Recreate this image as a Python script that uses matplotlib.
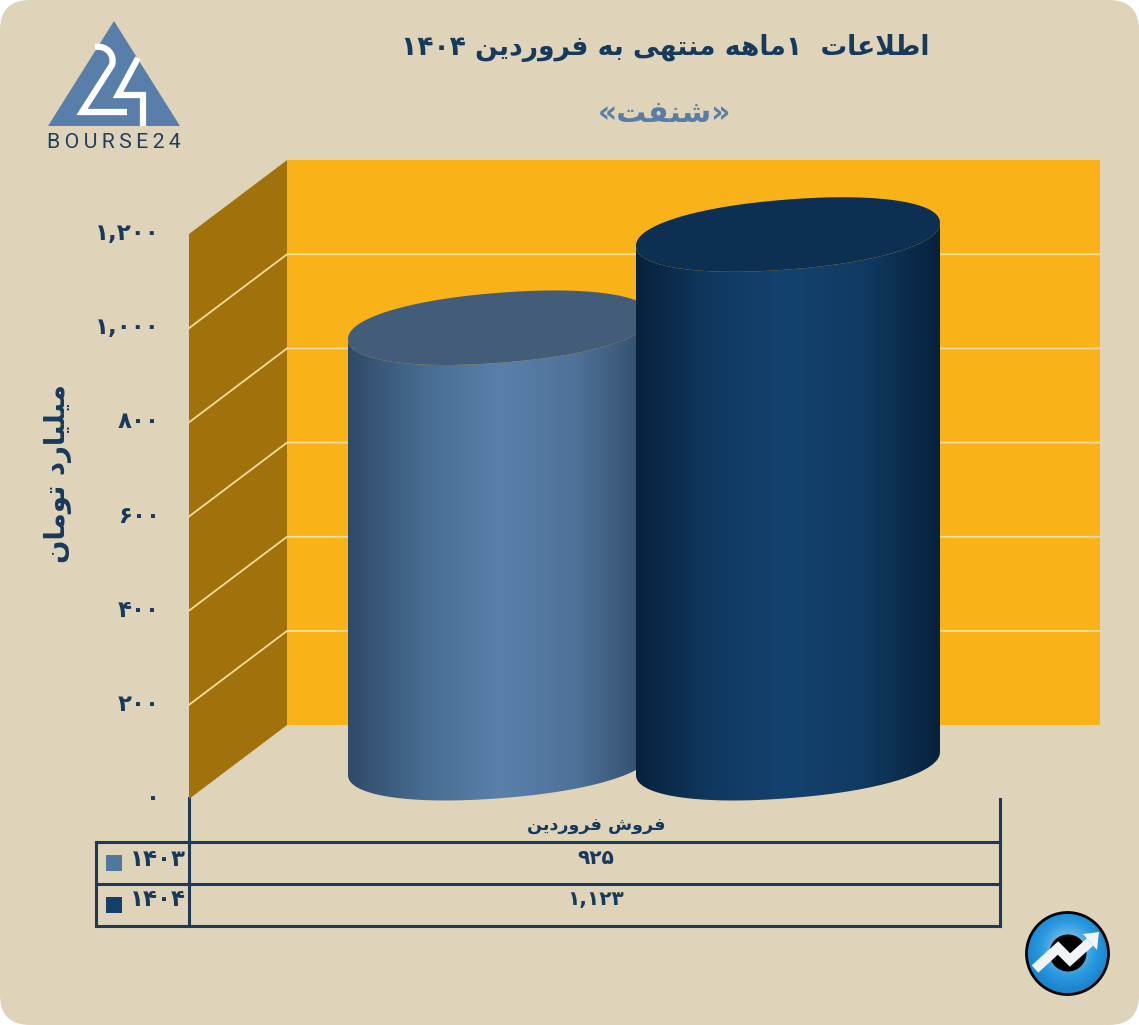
import numpy as np
import matplotlib
matplotlib.use('Agg')
import matplotlib.pyplot as plt
from matplotlib.colors import LinearSegmentedColormap
from matplotlib.patches import Circle, FancyBboxPatch, PathPatch, Polygon, Rectangle
from matplotlib.path import Path

plt.rcParams['font.family'] = ['DejaVu Sans']

title = 'اطلاعات  ۱ماهه منتهی به فروردین ۱۴۰۴'
subtitle = '«شنفت»'
y_title = 'میلیارد تومان'
category = 'فروش فروردین'
years = [1403, 1404]
sales = [925, 1123]
y_ticks = [0, 200, 400, 600, 800, 1000, 1200]

NAVY = '#17395c'
STEEL = '#5a7da6'
PX = 0.4708  # pixels per billion toman
BASE_Y = 799
WALL_SHIFT = 157
CYL_SHIFT = 76
CYL_W = 304

# isolated, final, initial, medial
FORMS = {
    'ا': (0xFE8D, 0xFE8E), 'ب': (0xFE8F, 0xFE90, 0xFE91, 0xFE92),
    'ت': (0xFE95, 0xFE96, 0xFE97, 0xFE98), 'د': (0xFEA9, 0xFEAA),
    'ر': (0xFEAD, 0xFEAE), 'ش': (0xFEB5, 0xFEB6, 0xFEB7, 0xFEB8),
    'ط': (0xFEC1, 0xFEC2, 0xFEC3, 0xFEC4), 'ع': (0xFEC9, 0xFECA, 0xFECB, 0xFECC),
    'ف': (0xFED1, 0xFED2, 0xFED3, 0xFED4), 'ل': (0xFEDD, 0xFEDE, 0xFEDF, 0xFEE0),
    'م': (0xFEE1, 0xFEE2, 0xFEE3, 0xFEE4), 'ن': (0xFEE5, 0xFEE6, 0xFEE7, 0xFEE8),
    'ه': (0xFEE9, 0xFEEA, 0xFEEB, 0xFEEC), 'و': (0xFEED, 0xFEEE),
    'ی': (0xFBFC, 0xFBFD, 0xFBFE, 0xFBFF),
}
MIRROR = {'«': '»', '»': '«'}


def fa_num(n, comma=True):
    s = f'{n:,}' if comma else str(n)
    return s.translate(str.maketrans('0123456789', '۰۱۲۳۴۵۶۷۸۹'))


def shape(text):
    # matplotlib has no bidi or joining, so do it by hand
    out = []
    i = 0
    while i < len(text):
        c = text[i]
        if c not in FORMS:
            out.append(c)
            i += 1
            continue
        prev = text[i - 1] if i else ' '
        joins_prev = prev in FORMS and len(FORMS[prev]) == 4
        nxt = text[i + 1] if i + 1 < len(text) else ' '
        if c == 'ل' and nxt == 'ا':
            out.append(chr(0xFEFC if joins_prev else 0xFEFB))
            i += 2
            continue
        joins_next = nxt in FORMS and len(FORMS[c]) == 4
        if joins_prev and joins_next:
            out.append(chr(FORMS[c][3]))
        elif joins_prev:
            out.append(chr(FORMS[c][1]))
        elif joins_next:
            out.append(chr(FORMS[c][2]))
        else:
            out.append(chr(FORMS[c][0]))
        i += 1
    # reverse, but digit runs stay left to right
    res, run = [], []
    for c in out:
        if c in '۰۱۲۳۴۵۶۷۸۹':
            run.append(c)
        else:
            res.extend(reversed(run))
            run = []
            res.append(c)
    res.extend(reversed(run))
    return ''.join(MIRROR.get(c, c) for c in reversed(res))


def rim(t):
    # tilted, slightly squarish ellipse; returns offsets in pixels
    p = 0.93
    ex = CYL_W / 2 * np.sign(np.cos(t)) * np.abs(np.cos(t)) ** p
    ey = 35 * np.sign(np.sin(t)) * np.abs(np.sin(t)) ** p + 0.0757 * ex
    return ex, ey


fig = plt.figure(figsize=(11.39, 10.25), dpi=100, facecolor='white')

# page furniture lives in pixel coordinates
ax = fig.add_axes([0, 0, 1, 1], zorder=0)
ax.set_xlim(0, 1139)
ax.set_ylim(1025, 0)
ax.axis('off')

# the chart itself: y is in billion toman
chart = fig.add_axes([0, 0, 1, 1], zorder=1)
chart.patch.set_alpha(0)
chart.axis('off')

ax.add_patch(FancyBboxPatch((0, 0), 1139, 1025, boxstyle='round,pad=0,rounding_size=30',
                            fc='#dfd4b9', ec='none'))

# walls
top = max(y_ticks)
chart.add_patch(Rectangle((287, WALL_SHIFT), 813, top, fc='#fab219', ec='none'))
chart.add_patch(Polygon([(189, 0), (287, WALL_SHIFT), (287, top + WALL_SHIFT), (189, top)],
                        fc='#a1720b', ec='none'))
for v in y_ticks[1:-1]:
    chart.plot([189, 287, 1100], [v, v + WALL_SHIFT, v + WALL_SHIFT],
               color='#f6dc9c', lw=1.3, solid_joinstyle='miter')
for v in y_ticks:
    chart.text(160, v + 1, fa_num(v), ha='right', va='center',
               fontsize=16.5, fontweight='bold', color=NAVY)

# cylinders
body_colors = [['#2f4a68', '#486c92', '#5a80aa', '#4f7299', '#2f4a68'],
               ['#08223c', '#10395f', '#14426f', '#103a61', '#08223c']]
cap_colors = ['#425c7a', '#0c2f52']
for i, v in enumerate(sales):
    left = 348 + i * 288
    cx = left + CYL_W / 2
    y_base = CYL_SHIFT
    y_top = CYL_SHIFT + v
    # silhouette: lower half of the base, up the right side, back over the top
    bx, by = rim(np.linspace(np.pi, 2 * np.pi, 120))
    body = Polygon(np.column_stack([cx + np.r_[bx, bx[::-1]],
                                    np.r_[y_base + by / PX, y_top + by[::-1] / PX]]),
                   fc='none', ec='none')
    chart.add_patch(body)
    cmap = LinearSegmentedColormap.from_list(f'cyl{i}', body_colors[i])
    im = chart.imshow(np.linspace(0, 1, 256)[None, :], cmap=cmap, aspect='auto',
                      extent=[left, left + CYL_W, y_base - 100, y_top + 100], zorder=2 + i)
    im.set_clip_path(body)
    ex, ey = rim(np.linspace(0, 2 * np.pi, 240))
    chart.add_patch(Polygon(np.column_stack([cx + ex, y_top + ey / PX]), fc=cap_colors[i],
                            ec='none', zorder=2 + i))

chart.set_xlim(0, 1139)
chart.set_ylim((BASE_Y - 1025) / PX, BASE_Y / PX)

# data table under the chart
for x0, x1, y0, y1 in [(189, 189, 798, 926), (1000, 1000, 799, 926), (96, 96, 842, 926),
                       (96, 1000, 842, 842), (96, 1000, 884, 884), (96, 1000, 926, 926)]:
    ax.plot([x0, x1], [y0, y1], color='#1d3b58', lw=2.2, solid_capstyle='projecting', zorder=5)

ax.text(596, 825, shape(category), ha='center', va='center', fontsize=12.6,
        fontweight='bold', color=NAVY, zorder=6)
swatches = ['#52779f', '#133f6a']
for i, (yr, v) in enumerate(zip(years, sales)):
    y_row = 859 + i * 41
    ax.add_patch(Rectangle((106, 855 + i * 42), 16, 16, fc=swatches[i], ec='none', zorder=6))
    ax.text(186, y_row, fa_num(yr, comma=False), ha='right', va='center', fontsize=16.5,
            fontweight='bold', color=NAVY, zorder=6)
    ax.text(596, y_row, fa_num(v), ha='center', va='center', fontsize=14.5,
            fontweight='bold', color=NAVY, zorder=6)

# headings
ax.text(665, 48, shape(title), ha='center', va='center', fontsize=19.1,
        fontweight='bold', color=NAVY)
ax.text(665, 114, shape(subtitle), ha='center', va='center', fontsize=21.5,
        fontweight='bold', color=STEEL)
ax.text(58, 474, shape(y_title), ha='center', va='center', rotation=90, fontsize=19.8,
        fontweight='bold', color=NAVY)

# bourse24 logo
ax.add_patch(Polygon([(114, 21), (180, 126), (48, 126)], fc='#5a7eaa', ec='none'))
two = Path([(95, 47), (107, 45), (115, 55), (112, 65), (82, 112), (127, 112)],
           [Path.MOVETO, Path.CURVE4, Path.CURVE4, Path.CURVE4, Path.LINETO, Path.LINETO])
ax.add_patch(PathPatch(two, fc='none', ec='white', lw=4.5, joinstyle='miter', capstyle='butt'))
ax.plot([138, 118, 143, 143], [58, 95, 95, 126], color='white', lw=4.5,
        solid_joinstyle='miter', solid_capstyle='butt')
ax.text(113.5, 143, '\u2009'.join('BOURSE24'), ha='center', va='center', fontsize=15.3,
        color='#1f3f5c', family=['Roboto', 'DejaVu Sans'])

# round badge bottom right
cx, cy = 1067.5, 953.5
badge = Circle((cx, cy), 41, fc='none', ec='none')
ax.add_patch(badge)
xx, yy = np.meshgrid(np.linspace(-1, 1, 200), np.linspace(-1, 1, 200))
dist = np.hypot(xx, yy + 0.1)
blue = LinearSegmentedColormap.from_list('badge', ['#1a86d0', '#2b9ae0', '#69b7e6', '#3aa0dd'])
im = ax.imshow(1 - np.clip(dist, 0, 1), cmap=blue, aspect='auto',
               extent=[cx - 41, cx + 41, cy + 41, cy - 41], zorder=1)
im.set_clip_path(badge)
ax.add_patch(Circle((cx, cy), 41, fc='none', ec='black', lw=2, zorder=2))
ax.add_patch(Circle((1068, 953), 18.5, fc='black', ec='none', zorder=2))
ax.plot([1035, 1058, 1070, 1090], [969, 948, 960, 942], color='#f2f4f5', lw=7,
        solid_joinstyle='miter', solid_capstyle='butt', zorder=3)
ax.add_patch(Polygon([(1099, 932), (1083, 934), (1097, 950)], fc='#f2f4f5', ec='none', zorder=3))
ax.set_xlim(0, 1139)
ax.set_ylim(1025, 0)

fig.savefig('out.png', dpi=100)
